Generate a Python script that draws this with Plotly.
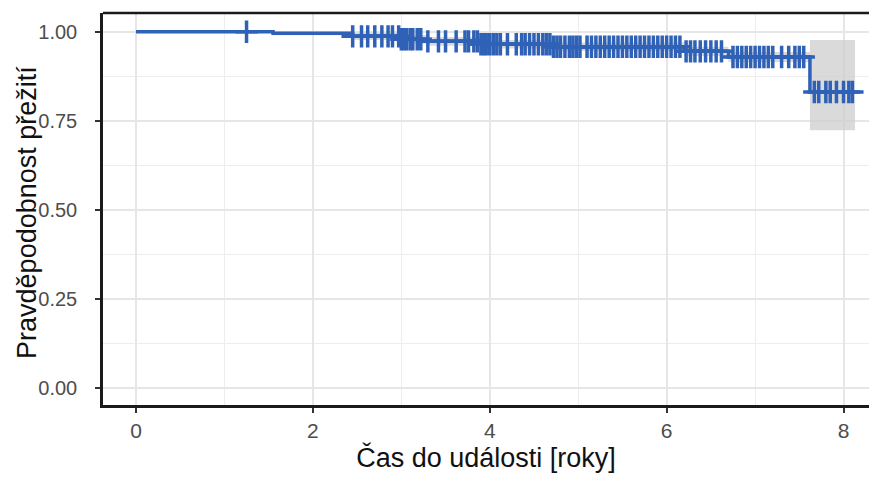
import numpy as np
import plotly.graph_objects as go

# Kaplan-Meier step curve (event times and survival after each step)
step_times = [0.0, 1.55, 2.45, 3.0, 3.3, 3.9, 4.7, 6.2, 6.7, 7.62, 8.13]
step_surv = [1.0, 0.996, 0.987, 0.979, 0.973, 0.965, 0.958, 0.945, 0.929, 0.831, 0.831]
ci_lower = [1.0, 0.990, 0.977, 0.967, 0.961, 0.953, 0.946, 0.932, 0.915, 0.724, 0.724]
ci_upper = [1.0, 1.0, 0.997, 0.991, 0.985, 0.977, 0.970, 0.958, 0.943, 0.977, 0.977]

# Censoring times
censor_times = [1.25,
    2.45, 2.55, 2.62, 2.70, 2.78, 2.85, 2.90, 2.97, 3.00, 3.03, 3.06, 3.10, 3.13,
    3.18, 3.22, 3.30, 3.42, 3.50, 3.62, 3.72, 3.76, 3.82, 3.86, 3.90, 3.93, 3.96,
    4.00, 4.04, 4.08, 4.12, 4.20, 4.30, 4.36, 4.40, 4.45, 4.50, 4.55, 4.60, 4.64,
    4.68, 4.72, 4.76, 4.80, 4.85, 4.90, 4.94, 4.98, 5.02, 5.10, 5.15, 5.20, 5.25,
    5.30, 5.35, 5.40, 5.45, 5.50, 5.55, 5.60, 5.65, 5.70, 5.75, 5.80, 5.85, 5.90,
    5.95, 6.00, 6.05, 6.10, 6.15, 6.22, 6.27, 6.32, 6.38, 6.44, 6.50, 6.56, 6.62,
    6.75, 6.80, 6.85, 6.90, 6.95, 7.00, 7.05, 7.10, 7.15, 7.20, 7.30, 7.38, 7.45,
    7.50, 7.55, 7.67, 7.72, 7.80, 7.85, 7.92, 8.00, 8.06, 8.10]

x_ticks = [0, 2, 4, 6, 8]
y_ticks = [0.0, 0.25, 0.5, 0.75, 1.0]
y_tick_labels = ["0.00", "0.25", "0.50", "0.75", "1.00"]

x_title = "Čas do události [roky]"
y_title = "Pravděpodobnost přežití"

LINE = "#2F62B6"
FONT = "Liberation Sans, Arial, sans-serif"

# survival level at each censor time (step lookup)
idx = np.searchsorted(step_times, censor_times, side="right") - 1
censor_surv = [step_surv[i] for i in idx]

fig = go.Figure()
fig.add_trace(go.Scatter(x=step_times, y=ci_upper, mode="lines", line=dict(width=0, shape="hv"),
                         hoverinfo="skip", showlegend=False))
fig.add_trace(go.Scatter(x=step_times, y=ci_lower, mode="lines", line=dict(width=0, shape="hv"),
                         fill="tonexty", fillcolor="rgba(205,205,205,0.75)",
                         hoverinfo="skip", showlegend=False))
fig.add_trace(go.Scatter(x=step_times, y=step_surv, mode="lines",
                         line=dict(color=LINE, width=3.5, shape="hv"), showlegend=False))
fig.add_trace(go.Scatter(x=censor_times, y=censor_surv, mode="markers",
                         marker=dict(symbol="cross-thin", size=16,
                                     line=dict(color=LINE, width=3.5)),
                         showlegend=False))

fig.update_layout(
    width=869, height=477,
    margin=dict(l=103, r=0, t=13, b=72, autoexpand=False),
    paper_bgcolor="white", plot_bgcolor="white",
    font=dict(family=FONT),
    showlegend=False,
)
fig.update_xaxes(
    range=[-0.373, 8.288], tickvals=x_ticks, ticktext=[str(v) for v in x_ticks],
    showgrid=True, gridcolor="#E6E6E6", gridwidth=1.5,
    minor=dict(dtick=1, tick0=1, showgrid=True, gridcolor="#EDEDED", gridwidth=0.8),
    zeroline=False, showline=True, linecolor="#1A1A1A", linewidth=2.5,
    ticks="outside", ticklen=5, tickwidth=2, tickcolor="#333333",
    tickfont=dict(size=21, color="#4D4D4D", family=FONT),
    title=dict(text=x_title, font=dict(size=27, color="#111111", family=FONT), standoff=8),
    automargin=False,
)
fig.update_yaxes(
    range=[-0.0469, 1.0525], tickvals=y_ticks, ticktext=y_tick_labels,
    showgrid=True, gridcolor="#E6E6E6", gridwidth=1.5,
    minor=dict(dtick=0.25, tick0=0.125, showgrid=True, gridcolor="#EDEDED", gridwidth=0.8),
    zeroline=False, showline=True, linecolor="#1A1A1A", linewidth=2.5,
    ticks="outside", ticklen=5, tickwidth=2, tickcolor="#333333",
    tickfont=dict(size=20, color="#4D4D4D", family=FONT),
    ticklabelstandoff=14,
    automargin=False,
)
# y-axis title as rotated text placed left of the panel
fig.add_annotation(text=y_title, xref="paper", yref="paper", x=-0.0992, y=0.49,
                   xanchor="center", yanchor="middle", textangle=-90, showarrow=False,
                   font=dict(size=27, color="#111111", family=FONT))
fig.add_shape(type="line", xref="paper", yref="paper", x0=0, x1=1, y0=1, y1=1,
              line=dict(color="#1A1A1A", width=2.5))

fig.write_html("out.html")
